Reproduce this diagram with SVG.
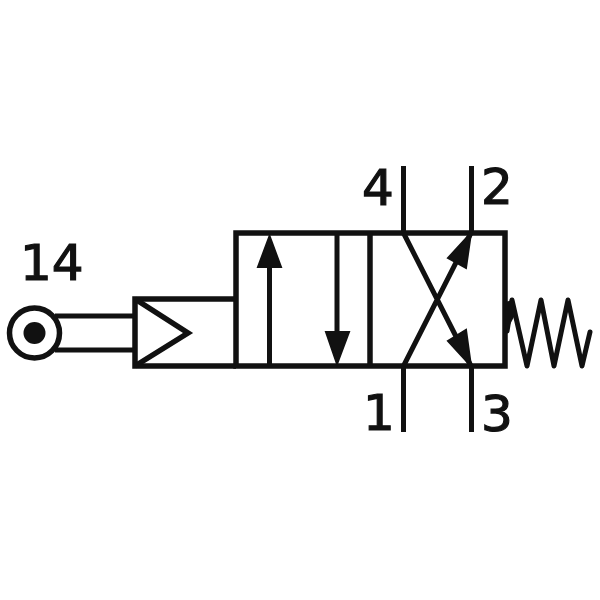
<svg xmlns="http://www.w3.org/2000/svg" width="600" height="600" viewBox="0 0 600 600">
<style>
.l{fill:none;stroke:#111;stroke-width:5.500;stroke-linejoin:miter}
.t{fill:none;stroke:#111;stroke-width:5;stroke-linejoin:round;stroke-linecap:round}
.b{fill:none;stroke:#111;stroke-width:5}
.h{fill:#111;stroke:#111;stroke-width:2;stroke-linejoin:miter}
text{font-family:"DejaVu Sans",sans-serif;font-size:50px;fill:#111;stroke:#111;stroke-width:1.200}
</style>
<rect width="600" height="600" fill="#fff"/>
<g id="valve-body">
<rect class="l" x="236" y="233" width="269" height="133"/>
<path class="l" d="M370 233V366"/>
</g>
<g id="actuator">
<path class="l" d="M236 299H135V366H236"/>
<path class="l" d="M135 299L188 333L135 366"/>
</g>
<g id="roller">
<circle class="l" cx="34.500" cy="333" r="25"/>
<circle cx="34.500" cy="333" r="11" fill="#111"/>
</g>
<g id="spring">
<path class="t" d="M507 331L512 300L527 366L541 300L554 366L568 300L582 366L590 332"/>
<path d="M505 302L513 300L515 315L506 332Z" fill="#111"/>
</g>
<g id="connectors">
<path class="b" d="M403.500 166V233M471.500 166V233M403.500 366V432M471.500 366V432"/>
<path class="b" d="M55 316H135M55 350H135"/>
<path class="b" d="M269.500 260V366M337 233V340"/>
<path class="b" d="M403.500 233L471 366M471 233L403.500 366"/>
<path class="h" d="M269.500 236L258 267H281Z"/>
<path class="h" d="M337 364L326 332H349Z"/>
<path class="h" d="M471 233L448 258L466 268Z"/>
<path class="h" d="M471 366L448 341L466 330Z"/>
</g>
<g id="labels">
<text x="20" y="280">14</text>
<text x="362" y="205">4</text>
<text x="481" y="204">2</text>
<text x="363" y="430">1</text>
<text x="481" y="431">3</text>
</g>
</svg>
